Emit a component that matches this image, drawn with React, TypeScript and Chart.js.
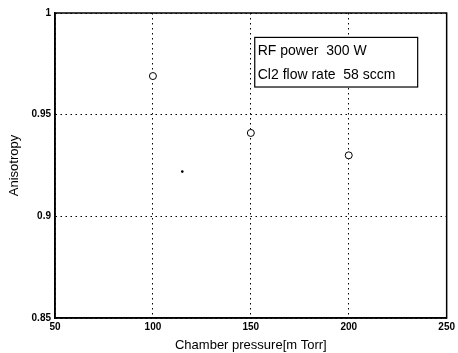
import React, { useEffect, useRef } from "react";
import { Chart, registerables } from "chart.js";

Chart.register(...registerables);

const pressure = [100, 150, 200];
const anisotropy = [0.969, 0.941, 0.930];
const strayX = [115];
const strayY = [0.922];
const xTicks = [50, 100, 150, 200, 250];
const xTickLabels = ["50", "100", "150", "200", "250"];
const yTicks = [0.85, 0.9, 0.95, 1];
const yTickLabels = ["0.85", "0.9", "0.95", "1"];
const annotationLines = ["RF power  300 W", "Cl2 flow rate  58 sccm"];

const FONT = "'Liberation Sans', Arial, sans-serif";

const framePlugin = {
  id: "frame",
  afterDraw(chart: any) {
    const { ctx, chartArea, scales } = chart;
    ctx.save();
    ctx.strokeStyle = "#000";
    ctx.lineWidth = 1.5;
    ctx.setLineDash([]);
    ctx.strokeRect(chartArea.left, chartArea.top, chartArea.right - chartArea.left, chartArea.bottom - chartArea.top);
    // annotation box
    const x0 = scales.x.getPixelForValue(152);
    const x1 = scales.x.getPixelForValue(235.2);
    const y0 = scales.y.getPixelForValue(0.988);
    const y1 = scales.y.getPixelForValue(0.9636);
    ctx.fillStyle = "#fff";
    ctx.fillRect(x0, y0, x1 - x0, y1 - y0);
    ctx.lineWidth = 1.2;
    ctx.strokeRect(x0, y0, x1 - x0, y1 - y0);
    ctx.fillStyle = "#000";
    ctx.font = `14px ${FONT}`;
    ctx.textBaseline = "middle";
    ctx.textAlign = "left";
    const h = (y1 - y0) / annotationLines.length;
    annotationLines.forEach((t, i) => {
      ctx.fillText(t, x0 + 3, y0 + h * (i + 0.5) + 1);
    });
    ctx.restore();
  },
};

export default function App() {
  const ref = useRef<HTMLCanvasElement>(null);
  useEffect(() => {
    document.body.style.margin = "0";
    const canvas = ref.current!;
    const chart = new Chart(canvas, {
      type: "scatter",
      data: {
        datasets: [
          {
            data: pressure.map((x, i) => ({ x, y: anisotropy[i] })),
            pointStyle: "circle",
            pointRadius: 3.5,
            borderColor: "#000",
            backgroundColor: "#fff",
            borderWidth: 1,
          },
          {
            data: strayX.map((x, i) => ({ x, y: strayY[i] })),
            pointRadius: 1.3,
            borderColor: "#000",
            backgroundColor: "#000",
            borderWidth: 0,
          },
        ],
      },
      options: {
        animation: false,
        responsive: false,
        maintainAspectRatio: false,
        layout: { padding: { left: 0, right: 11, top: 13, bottom: 0 } },
        plugins: { legend: { display: false }, tooltip: { enabled: false } },
        scales: {
          x: {
            type: "linear",
            min: 50,
            max: 250,
            afterBuildTicks: (s: any) => {
              s.ticks = xTicks.map((v) => ({ value: v }));
            },
            afterFit: (s: any) => {
              s.height = 35;
            },
            ticks: {
              color: "#000",
              font: { family: FONT, size: 10, weight: "bold" },
              padding: 3,
              maxRotation: 0,
              callback: (v: any) => {
                const i = xTicks.indexOf(Number(v));
                return i >= 0 ? xTickLabels[i] : "";
              },
            },
            grid: {
              color: "#000",
              lineWidth: 1,
              drawTicks: false,
              tickLength: 0,
            },
            border: { display: true, color: "#000", width: 1.5, dash: [1.5, 3.5] },
            title: {
              display: true,
              text: "Chamber pressure[m Torr]",
              color: "#000",
              font: { family: FONT, size: 13 },
              padding: 0,
            },
          },
          y: {
            type: "linear",
            min: 0.85,
            max: 1,
            afterBuildTicks: (s: any) => {
              s.ticks = yTicks.map((v) => ({ value: v }));
            },
            afterFit: (s: any) => {
              s.width = 55;
            },
            ticks: {
              color: "#000",
              font: { family: FONT, size: 10, weight: "bold" },
              padding: 4,
              callback: (v: any) => {
                const i = yTicks.findIndex((t) => Math.abs(t - Number(v)) < 1e-9);
                return i >= 0 ? yTickLabels[i] : "";
              },
            },
            grid: {
              color: "#000",
              lineWidth: 1,
              drawTicks: false,
              tickLength: 0,
            },
            border: { display: true, color: "#000", width: 1.5, dash: [1.5, 3.5] },
            title: {
              display: true,
              text: "Anisotropy",
              color: "#000",
              font: { family: FONT, size: 13 },
              padding: { top: 7, bottom: 7 },
            },
          },
        },
      },
      plugins: [framePlugin],
    } as any);
    return () => chart.destroy();
  }, []);
  return (
    <div style={{ width: 458, height: 353 }}>
      <canvas ref={ref} width={458} height={353} style={{ display: "block", width: 458, height: 353 }} />
    </div>
  );
}
